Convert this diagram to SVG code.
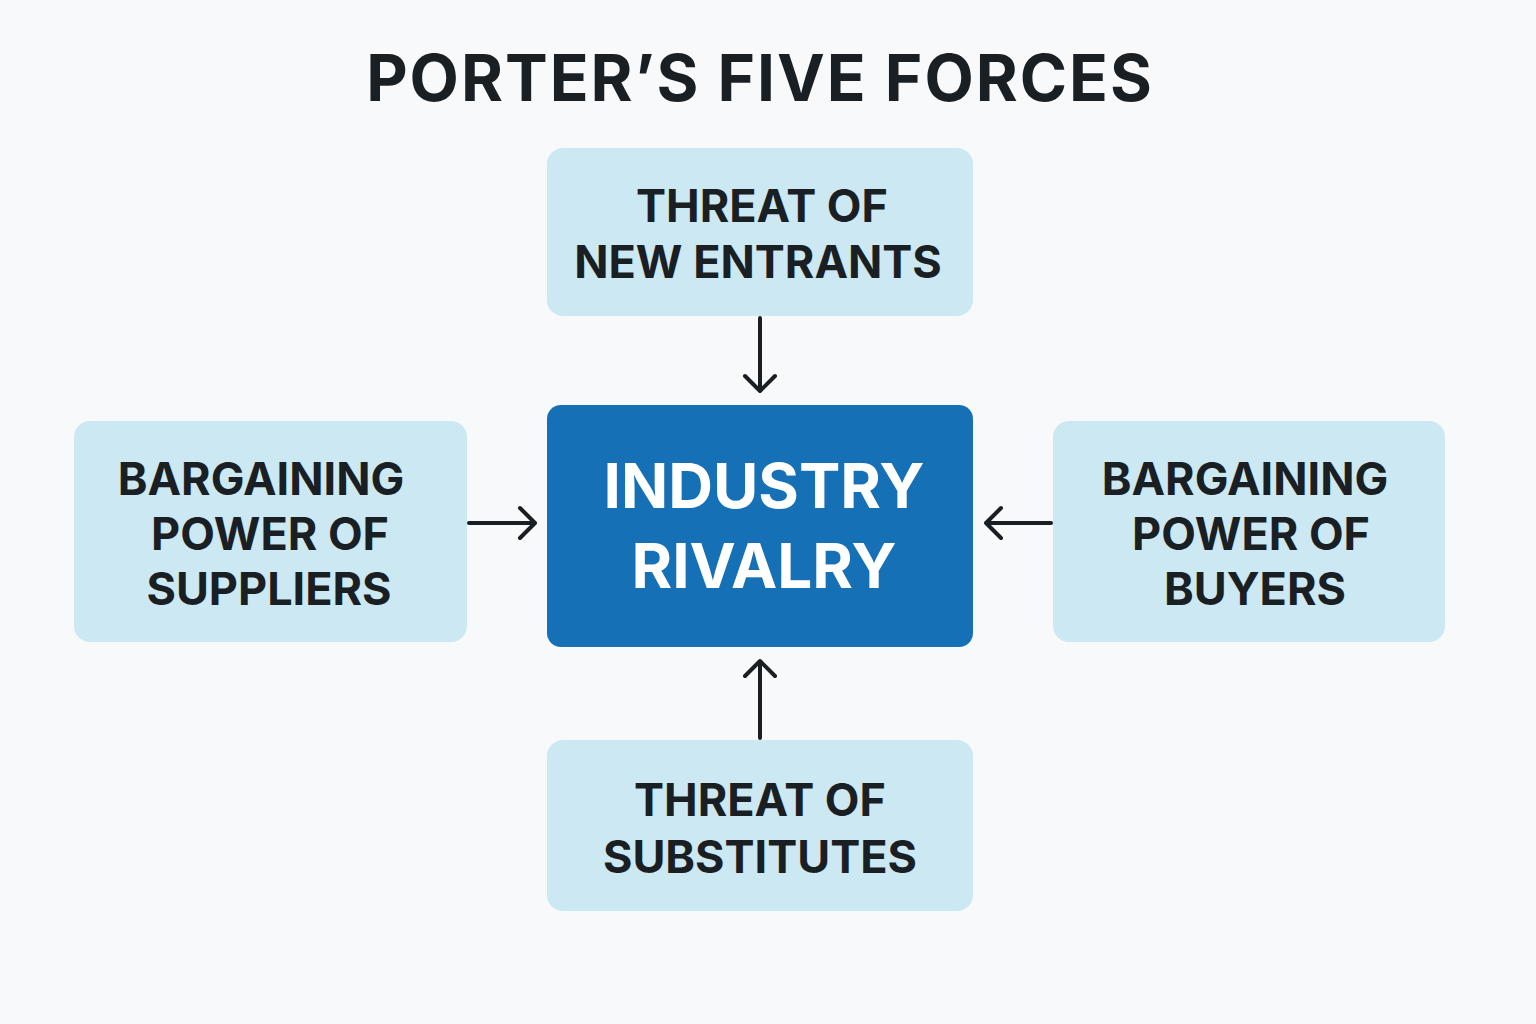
<svg xmlns="http://www.w3.org/2000/svg" width="1536" height="1024" viewBox="0 0 1536 1024">
<style>
.box{fill:#cce8f3}
.lbl{font-family:Inter,"Liberation Sans",sans-serif;font-weight:700;font-size:45px;fill:#1a1f24;text-anchor:middle}
.big{font-family:Inter,"Liberation Sans",sans-serif;font-weight:700;font-size:62px;fill:#ffffff;text-anchor:middle}
.con{stroke:#1a1f24;stroke-width:4;fill:none;stroke-linecap:round;stroke-linejoin:round}
</style>
<rect width="1536" height="1024" fill="#f8f9fa"/>
<text x="760" y="101" font-family="Inter,'Liberation Sans',sans-serif" font-weight="700" font-size="64" fill="#1a1f24" text-anchor="middle" letter-spacing="2">PORTER’S FIVE FORCES</text>
<g id="new-entrants"><rect class="box" x="547" y="148" width="426" height="168" rx="16"/>
<text class="lbl" x="762" y="222">THREAT OF</text><text class="lbl" x="758" y="278">NEW ENTRANTS</text></g>
<g id="rivalry"><rect x="547" y="405" width="426" height="242" rx="14" fill="#1670b5"/>
<text class="big" x="764" y="508">INDUSTRY</text><text class="big" x="764" y="588">RIVALRY</text></g>
<g id="suppliers"><rect class="box" x="74" y="421" width="393" height="221" rx="16"/>
<text class="lbl" x="261" y="495">BARGAINING</text><text class="lbl" x="270" y="550">POWER OF</text><text class="lbl" x="269" y="605">SUPPLIERS</text></g>
<g id="buyers"><rect class="box" x="1053" y="421" width="392" height="221" rx="16"/>
<text class="lbl" x="1245" y="495">BARGAINING</text><text class="lbl" x="1251" y="550">POWER OF</text><text class="lbl" x="1255" y="605">BUYERS</text></g>
<g id="substitutes"><rect class="box" x="547" y="740" width="426" height="171" rx="16"/>
<text class="lbl" x="760" y="816">THREAT OF</text><text class="lbl" x="760" y="873">SUBSTITUTES</text></g>
<g id="connectors">
<path class="con" d="M760 318V391M745 376L760 391L775 376"/>
<path class="con" d="M469 523H535M520 508L535 523L520 538"/>
<path class="con" d="M1051 523H986M1001 508L986 523L1001 538"/>
<path class="con" d="M760 738V661M745 676L760 661L775 676"/>
</g>
</svg>
